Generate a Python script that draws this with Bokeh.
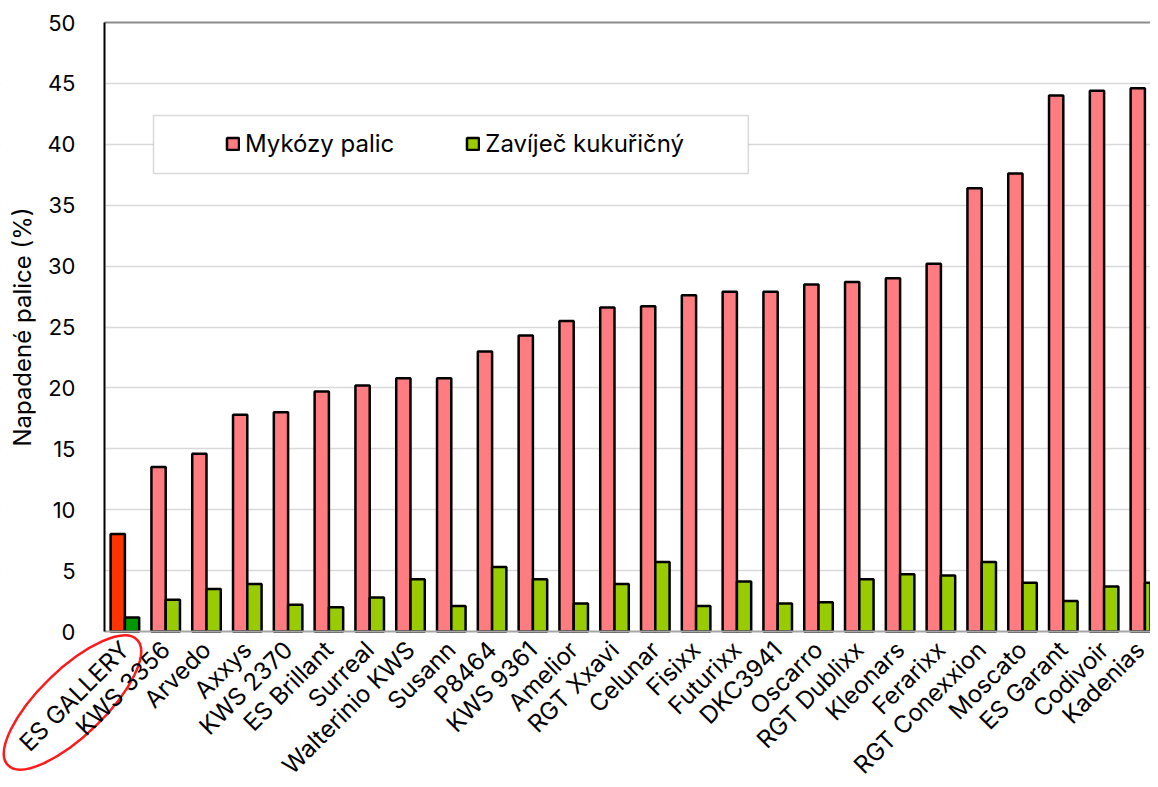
import numpy as np
from bokeh.plotting import figure
from bokeh.models import (ColumnDataSource, FixedTicker, Legend, LegendItem,
                          BoxAnnotation, Range1d, LinearAxis, Grid, Label)
from bokeh.embed import file_html
from bokeh.resources import INLINE

categories = ["ES GALLERY", "KWS 3356", "Arvedo", "Axxys", "KWS 2370", "ES Brillant",
              "Surreal", "Walterinio KWS", "Susann", "P8464", "KWS 9361", "Amelior",
              "RGT Xxavi", "Celunar", "Fisixx", "Futurixx", "DKC3941", "Oscarro",
              "RGT Dublixx", "Kleonars", "Ferarixx", "RGT Conexxion", "Moscato",
              "ES Garant", "Codivoir", "Kadenias"]
mykozy = [8.0, 13.5, 14.6, 17.8, 18.0, 19.7, 20.2, 20.8, 20.8, 23.0, 24.3, 25.5,
          26.6, 26.7, 27.6, 27.9, 27.9, 28.5, 28.7, 29.0, 30.2, 36.4, 37.6,
          44.0, 44.4, 44.6]
zavijec = [1.15, 2.6, 3.5, 3.9, 2.2, 2.0, 2.8, 4.3, 2.1, 5.3, 4.3, 2.3,
           3.9, 5.7, 2.1, 4.1, 2.3, 2.4, 4.3, 4.7, 4.6, 5.7, 4.0,
           2.5, 3.7, 4.0]
series_names = ["Mykózy palic", "Zavíječ kukuřičný"]
y_label = "Napadené palice (%)"
y_ticks = [0, 5, 10, 15, 20, 25, 30, 35, 40, 45, 50]

PINK, GREEN = "#FF7C80", "#99CC00"
HL_PINK, HL_GREEN = "#FF3300", "#009900"
FONT = "Inter"
FS = "24px"

n = len(categories)
idx = np.arange(n)
c1 = [HL_PINK] + [PINK] * (n - 1)
c2 = [HL_GREEN] + [GREEN] * (n - 1)
src = ColumnDataSource(dict(x1=idx - 0.175, x2=idx + 0.175, y1=mykozy, y2=zavijec,
                            c1=c1, c2=c2))

# frame covers the whole canvas; axes are placed at fixed locations inside it
W, H = 1150, 779
p = figure(width=W, height=H, output_backend="svg", toolbar_location=None,
           x_axis_type=None, y_axis_type=None, title=None,
           x_range=Range1d(-3.049, 25.137), y_range=Range1d(-12.15, 51.81),
           min_border=0)
p.outline_line_color = None
p.background_fill_color = "white"
p.border_fill_color = "white"

# horizontal grid
p.add_layout(Grid(dimension=1, ticker=FixedTicker(ticks=y_ticks[1:-1]),
                  grid_line_color="#d9d9d9", grid_line_width=1.5))
# keep the grid out of the y-label area
p.add_layout(BoxAnnotation(right=-0.5, fill_color="white", fill_alpha=1.0,
                           line_color=None, level="underlay"))

r1 = p.vbar(x="x1", top="y1", width=0.35, source=src, fill_color="c1",
            line_color="black", line_width=2.5)
r2 = p.vbar(x="x2", top="y2", width=0.35, source=src, fill_color="c2",
            line_color="black", line_width=2.5)

# y axis
yax = LinearAxis(fixed_location=-0.5, bounds=(0, 50), ticker=FixedTicker(ticks=y_ticks),
                 axis_line_color="black", axis_line_width=2,
                 major_tick_line_color=None, minor_tick_line_color=None,
                 major_label_text_font=FONT, major_label_text_font_size="22px",
                 major_label_text_color="black", major_label_standoff=23)
p.add_layout(yax, "left")

# x axis with category labels
xax = LinearAxis(fixed_location=0, bounds=(-0.5, 30), ticker=FixedTicker(ticks=list(range(n))),
                 major_label_overrides={i: c for i, c in enumerate(categories)},
                 major_label_orientation=np.pi / 4,
                 axis_line_color="#a6a6a6", axis_line_width=2,
                 major_tick_line_color=None, minor_tick_line_color=None,
                 major_label_text_font=FONT, major_label_text_font_size=FS,
                 major_label_text_color="black", major_label_standoff=8)
p.add_layout(xax, "below")

# plot area top border
top = LinearAxis(fixed_location=50, bounds=(-0.5, 30), ticker=FixedTicker(ticks=[]),
                 axis_line_color="#8c8c8c", axis_line_width=2,
                 major_tick_line_color=None, minor_tick_line_color=None,
                 major_label_text_font_size="0px")
p.add_layout(top, "above")

# y axis title
p.add_layout(Label(x=-2.51, y=25, text=y_label, angle=np.pi / 2,
                   text_align="center", text_baseline="middle",
                   text_font=FONT, text_font_size=FS, text_color="black"))

# legend
p.add_layout(BoxAnnotation(left=0.701, right=15.28, bottom=37.6, top=42.36,
                           fill_color="white", fill_alpha=1.0,
                           line_color="#808080", line_width=1.5))
legend = Legend(items=[LegendItem(label=series_names[0], renderers=[r1], index=1),
                       LegendItem(label=series_names[1], renderers=[r2], index=1)],
                orientation="horizontal", location=(225, 621),
                padding=0, spacing=71, label_standoff=5,
                glyph_width=15, glyph_height=15,
                border_line_color=None, background_fill_alpha=0,
                label_text_font=FONT, label_text_font_size=FS,
                label_text_color="black")
p.add_layout(legend)

# red ellipse around the highlighted first label
p.ellipse(x=-1.284, y=-5.83, width=180, height=66, width_units="screen",
          height_units="screen", angle=0.77, fill_color=None,
          line_color="#FF1A1A", line_width=2.5)

open("out.html", "w").write(file_html(p, INLINE))
